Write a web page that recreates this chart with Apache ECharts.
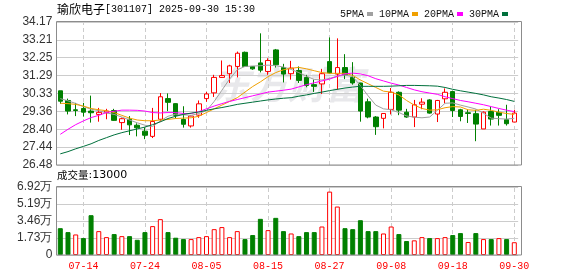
<!DOCTYPE html>
<html><head><meta charset="utf-8">
<script src="https://cdn.jsdelivr.net/npm/echarts@6/dist/echarts.min.js"></script>
<style>html,body{margin:0;padding:0;background:#fff}#c{width:578px;height:276px}</style>
</head><body><div id="c"></div>
<script>
const stockName = '瑜欣电子';
const stockCode = '301107';
const stamp = '2025-09-30 15:30';
const dates = ['07-09','07-10','07-11','07-14','07-15','07-16','07-17','07-18','07-21','07-22','07-23','07-24','07-25','07-28','07-29','07-30','07-31','08-01','08-04','08-05','08-06','08-07','08-08','08-11','08-12','08-13','08-14','08-15','08-18','08-19','08-20','08-21','08-22','08-25','08-26','08-27','08-28','08-29','09-01','09-02','09-03','09-04','09-05','09-08','09-09','09-10','09-11','09-12','09-15','09-16','09-17','09-18','09-19','09-22','09-23','09-24','09-25','09-26','09-29','09-30'];
const open  = [30.47,29.95,29.45,29.52,29.38,29.20,29.29,29.41,28.76,28.94,28.62,28.30,28.02,28.94,30.05,29.78,28.93,28.58,29.16,30.05,30.36,31.19,31.39,31.78,32.54,31.78,31.97,31.51,32.67,31.72,31.39,31.56,31.19,30.80,30.84,32.04,31.37,31.72,31.19,30.89,29.88,29.06,28.99,29.47,30.39,29.32,29.06,29.75,29.98,29.22,30.04,30.43,29.45,29.29,29.24,28.42,29.36,29.31,28.92,28.79];
const close = [29.91,29.38,29.41,29.32,29.29,29.31,29.38,28.88,28.97,28.64,28.48,28.08,28.82,30.15,29.85,29.15,28.67,29.11,29.77,30.30,31.19,31.29,31.81,32.49,31.78,31.65,31.58,32.10,31.87,31.37,31.69,31.03,30.76,30.71,31.39,31.43,31.72,31.33,30.89,29.38,29.06,28.54,29.25,30.39,29.43,29.06,29.72,29.86,29.27,29.95,30.39,29.41,29.09,29.25,28.68,29.32,28.95,29.15,28.70,29.27];
const low   = [29.77,29.20,29.11,29.08,28.76,28.81,28.94,28.85,28.37,28.09,28.02,27.87,27.93,28.81,29.38,28.98,28.49,28.49,29.02,29.88,30.14,31.16,30.89,31.19,31.75,31.60,31.46,31.33,31.72,30.92,31.07,30.89,30.66,30.41,30.30,31.40,30.53,31.10,30.80,28.81,28.99,28.10,28.45,29.20,29.16,29.02,28.52,29.48,29.24,28.79,29.80,29.06,28.83,28.74,27.76,28.42,28.60,28.60,28.60,28.79];
const high  = [30.47,30.05,29.82,29.82,30.21,29.55,29.50,29.50,29.03,29.11,28.72,28.50,29.55,30.35,30.33,29.80,29.64,29.16,29.95,30.41,31.33,32.10,31.87,32.58,32.58,31.80,33.56,32.22,32.72,31.92,32.08,31.78,31.33,31.07,31.65,33.34,33.29,32.44,32.01,30.90,30.05,29.11,29.27,30.62,30.44,29.50,29.98,30.07,30.02,29.98,30.60,30.48,29.50,29.48,29.45,29.36,29.63,29.48,29.72,29.45];
const ma5  = [30.05,29.93,29.79,29.62,29.48,29.40,29.28,29.20,29.06,28.90,28.75,28.62,28.55,28.85,29.10,29.22,29.18,29.15,29.25,29.40,29.90,30.50,31.10,31.60,31.78,31.80,31.82,31.85,31.82,31.75,31.62,31.45,31.25,31.08,31.05,31.14,31.25,31.32,31.23,30.75,30.20,29.70,29.50,29.45,29.30,29.12,29.05,29.02,29.06,29.42,29.80,29.82,29.70,29.60,29.49,29.26,29.00,28.97,28.95,28.99];
const ma10 = [29.80,29.78,29.74,29.65,29.52,29.45,29.40,29.30,29.15,29.00,28.90,28.86,28.86,28.90,28.93,28.98,29.00,29.02,29.10,29.30,29.50,29.70,29.90,30.10,30.40,30.70,30.95,31.23,31.45,31.60,31.68,31.73,31.65,31.55,31.45,31.41,31.41,31.41,31.30,31.05,30.85,30.65,30.45,30.40,30.25,29.95,29.70,29.52,29.43,29.45,29.56,29.62,29.60,29.45,29.42,29.48,29.42,29.32,29.25,29.20];
const ma20 = [28.13,28.40,28.65,28.85,29.03,29.15,29.30,29.37,29.43,29.43,29.42,29.38,29.30,29.28,29.30,29.30,29.25,29.25,29.35,29.50,29.65,29.78,29.90,30.00,30.10,30.20,30.30,30.40,30.45,30.50,30.56,30.68,30.80,30.90,31.00,31.10,31.25,31.38,31.42,31.38,31.28,31.12,31.00,30.88,30.78,30.65,30.52,30.42,30.35,30.28,30.15,30.05,29.95,29.88,29.80,29.72,29.62,29.52,29.43,29.35];
const ma30 = [27.08,27.20,27.35,27.48,27.62,27.80,27.95,28.10,28.22,28.32,28.42,28.52,28.65,28.80,28.98,29.10,29.20,29.27,29.33,29.42,29.50,29.57,29.65,29.74,29.80,29.86,29.92,29.98,30.03,30.07,30.10,30.18,30.25,30.33,30.40,30.48,30.55,30.62,30.67,30.71,30.71,30.71,30.71,30.72,30.74,30.76,30.76,30.75,30.74,30.72,30.65,30.55,30.47,30.40,30.33,30.25,30.15,30.08,30.00,29.90];
const volume = [27300,23300,20900,17200,40500,24300,18200,21300,19200,19200,15500,23300,29400,36500,23300,17600,16200,16200,18200,19200,26300,28400,18200,24300,16200,20300,36800,25300,37800,24300,21900,19200,23300,23300,29000,64500,49300,27300,26300,35400,24300,24300,21900,29000,21300,14200,14900,18200,17200,17200,18200,20300,22300,13200,22300,16200,16200,17200,16200,13000];
const tickDates = ['07-14','07-24','08-05','08-15','08-27','09-08','09-18','09-30'];
const priceTicks = ['26.48','27.44','28.40','29.36','30.33','31.29','32.25','33.21','34.17'];
const volTicks = ['0','1.73万','3.46万','5.19万','6.92万'];
const maNames = ['5PMA','10PMA','20PMA','30PMA'];

const priceMin = 26.48, priceMax = 34.17, priceStep = (priceMax - priceMin) / 8;
const volMax = 69200, volStep = volMax / 4;
const UP = '#ff0000', DOWN = '#008000';
const maColors = ['#a0a0a0', '#f0a000', '#ff00ff', '#00703c'];

const candleData = dates.map((d, i) => [open[i], close[i], low[i], high[i]]);
const volData = volume.map((v, i) => {
  const up = i === 0 ? close[i] >= open[i] : close[i] >= close[i - 1];
  return { value: v, itemStyle: up ? { color: '#fff', borderColor: UP, borderWidth: 1 } : { color: DOWN, borderColor: DOWN, borderWidth: 1 } };
});

const gl = 56.45, gw = 461.7;
const dashed = { color: '#cccccc', type: [4, 3], width: 1 };
const chart = echarts.init(document.getElementById('c'), null, { renderer: 'canvas' });
chart.setOption({
  animation: false,
  backgroundColor: '#fff',
  legend: {
    data: maNames, left: 335, top: 4, align: 'right', icon: 'rect',
    itemWidth: 6, itemHeight: 4, itemGap: 6, selectedMode: false,
    textStyle: { fontFamily: 'Liberation Mono', fontSize: 10, color: '#111', padding: [0, -2, 0, 0] }
  },
  grid: [
    { left: gl, width: gw, top: 22, height: 143 },
    { left: gl, width: gw, top: 187, height: 68 }
  ],
  xAxis: [
    { type: 'category', gridIndex: 0, data: dates, boundaryGap: true, axisLine: { show: false }, axisTick: { show: false }, axisLabel: { show: false }, splitLine: { show: false } },
    { type: 'category', gridIndex: 1, data: dates, boundaryGap: true, axisLine: { show: false }, axisTick: { show: false }, splitLine: { show: false },
      axisLabel: { interval: (idx, val) => tickDates.includes(val), color: '#ff0000', fontFamily: 'Liberation Mono', fontSize: 10, margin: 6 } }
  ],
  yAxis: [
    { type: 'value', gridIndex: 0, min: priceMin, max: priceMax, interval: priceStep,
      axisLine: { show: false }, axisTick: { show: false },
      splitLine: { show: true, lineStyle: { color: '#cccccc', width: 1 } },
      axisLabel: { margin: 4, color: '#333', fontFamily: 'Liberation Sans', fontSize: 12,
        formatter: v => priceTicks[Math.round((v - priceMin) / priceStep)] || '' } },
    { type: 'value', gridIndex: 1, min: 0, max: volMax, interval: volStep,
      axisLine: { show: false }, axisTick: { show: false },
      splitLine: { show: true, lineStyle: { color: '#cccccc', width: 1 } },
      axisLabel: { margin: 4, color: '#333', fontFamily: 'Liberation Sans', fontSize: 12,
        formatter: v => volTicks[Math.round(v / volStep)] || '' } }
  ],
  graphic: [
    { type: 'text', left: 212, top: 66, z: -10, silent: true,
      style: { text: '东方财富', font: 'italic bold 38px "Noto Sans CJK SC"', fill: 'rgba(150,150,165,0.22)' } },
    { type: 'text', left: 57, top: 3, style: { text: '{a|' + stockName + '}{b|[' + stockCode + '] ' + stamp + '}',
      rich: { a: { fontFamily: 'Noto Sans CJK SC', fontSize: 12, fill: '#000', fontWeight: 'normal' }, b: { fontFamily: 'Liberation Mono', fontSize: 10, fill: '#000' } } } },
    { type: 'text', left: 57, top: 170, style: { text: '{a|成交量}{b|:' + volume[volume.length - 1] + '}',
      rich: { a: { fontFamily: 'Noto Sans CJK SC', fontSize: 10.5, fill: '#000' }, b: { fontFamily: 'DejaVu Sans', fontSize: 11, fill: '#000' } } } },
    { type: 'rect', shape: { x: 56.5, y: 21.5, width: 465, height: 143.5 }, style: { fill: 'none', stroke: '#8c8c8c', lineWidth: 1 }, z: 100, silent: true },
    { type: 'rect', shape: { x: 56.5, y: 186.5, width: 465, height: 68.5 }, style: { fill: 'none', stroke: '#8c8c8c', lineWidth: 1 }, z: 100, silent: true }
  ],
  series: [
    { type: 'candlestick', name: 'K', xAxisIndex: 0, yAxisIndex: 0, data: candleData, barWidth: 5,
      itemStyle: { color: '#fff', color0: DOWN, borderColor: UP, borderColor0: DOWN, borderWidth: 1 },
      markLine: { silent: true, symbol: ['none', 'none'], label: { show: false }, lineStyle: dashed, z: 1,
        data: tickDates.map(d => ({ xAxis: d })) }, z: 3 },
    ...maNames.map((n, k) => ({ type: 'line', name: n, xAxisIndex: 0, yAxisIndex: 0,
      data: [ma5, ma10, ma20, ma30][k], symbol: 'none', smooth: false, color: maColors[k],
      lineStyle: { width: 1, color: maColors[k] }, itemStyle: { color: maColors[k] }, z: 4 })),
    { type: 'bar', name: 'VOL', xAxisIndex: 1, yAxisIndex: 1, data: volData, barWidth: 5,
      markLine: { silent: true, symbol: ['none', 'none'], label: { show: false }, lineStyle: dashed, z: 1,
        data: tickDates.map(d => ({ xAxis: d })) } }
  ]
});
</script></body></html>
